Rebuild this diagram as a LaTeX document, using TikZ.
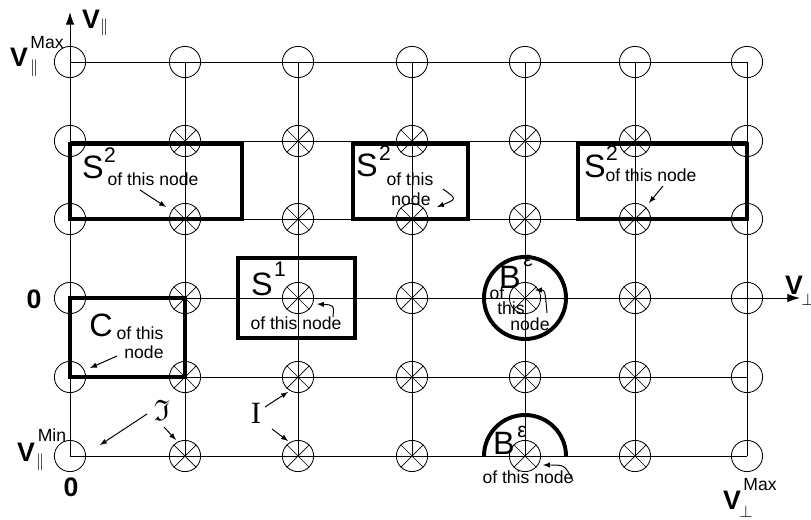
\documentclass[tikz,border=0pt]{standalone}
\usepackage{fontspec}
\setmainfont{Liberation Sans}
\newfontfamily\serifrm{Liberation Serif}
\usepackage{amsmath,amssymb}
\usetikzlibrary{arrows.meta}

\tikzset{
  gridpt/.style={circle,draw,line width=0.6pt,minimum size=0.78cm,inner sep=0pt},
  spoke/.style={line width=0.5pt},
  gridline/.style={line width=0.6pt},
  regionbox/.style={line width=2.8pt},
  bigtxt/.style={inner sep=0pt,font=\fontsize{23}{24}\selectfont},
  suptxt/.style={inner sep=0pt,font=\fontsize{15}{16}\selectfont},
  smalltxt/.style={inner sep=0pt,font=\fontsize{12.5}{13}\selectfont},
  axistxt/.style={inner sep=0pt,font=\fontsize{19}{20}\selectfont\bfseries},
  ptr/.style={-latex,line width=0.7pt},
  axisarrow/.style={-{Latex[length=9pt,width=6pt]},line width=0.7pt},
}

\begin{document}
\begin{tikzpicture}[x=0.025cm,y=-0.025cm]
\useasboundingbox (0,0) rectangle (811,520);

% Points de la grille
\foreach \y [count=\r] in {62,141,219,298,377,456}
  \foreach \x [count=\c] in {70,185,298,412,525,635,747}
    \node[gridpt] (p-\r-\c) at (\x,\y) {};

% Points interieurs
\foreach \r in {2,...,6}
  \foreach \c in {2,...,6}
    \draw[spoke]
    (p-\r-\c.north west) -- (p-\r-\c.south east)
    (p-\r-\c.north east) -- (p-\r-\c.south west);

% Lignes
\foreach \r in {1,2,3,5,6}
  \draw[gridline] (p-\r-1.center) -- (p-\r-7.center);
\foreach \c in {2,...,7}
  \draw[gridline] (p-1-\c.center) -- (p-6-\c.center);

% Axes
\coordinate (vtop) at (70,12);
\coordinate (hend) at (800,298);
\draw[axisarrow] (p-6-1.center) -- (vtop);
\draw[axisarrow] (p-4-1.center) -- (hend);

\node[axistxt] (vpar) at (91,19) {V};
\node[inner sep=0pt,font=\fontsize{12}{12}\selectfont] (vparsub) at (104,27) {$\parallel$};

\node[axistxt] (vperp) at (794,285) {V};
\node[inner sep=0pt,font=\fontsize{12}{12}\selectfont] (vperpsub) at (808,300) {$\perp$};

% Bornes
\node[axistxt] (vmaxv) at (19,57) {V};
\node[smalltxt] (vmaxsup) at (47,43) {Max};
\node[inner sep=0pt,font=\fontsize{12}{12}\selectfont] (vmaxsub) at (34,68) {$\parallel$};

\node[axistxt] (zeroa) at (34,299) {0};

\node[axistxt] (vminv) at (26,452) {V};
\node[smalltxt] (vminsup) at (52,435) {Min};
\node[inner sep=0pt,font=\fontsize{12}{12}\selectfont] (vminsub) at (40,462) {$\parallel$};

\node[axistxt] (zerob) at (71,487) {0};

\node[axistxt] (vpmaxv) at (732,500) {V};
\node[smalltxt] (vpmaxsup) at (760,485) {Max};
\node[inner sep=0pt,font=\fontsize{12}{12}\selectfont] (vpmaxsub) at (746,512) {$\perp$};

% Zones S2
\draw[regionbox] (70,144) rectangle (242,219);
\node[bigtxt] (sa) at (93,167) {S};
\node[suptxt] (saexp) at (110,155) {2};
\node[smalltxt] (satxt) at (153,179) {of this node};
\coordinate (saarr) at (140,190);
\coordinate (satip) at (166,207);
\draw[ptr] (saarr) -- (satip);

\draw[regionbox] (353,144) rectangle (468,219);
\node[bigtxt] (sb) at (367,165) {S};
\node[suptxt] (sbexp) at (385,153) {2};
\node[smalltxt] (sbtxt) at (410,179) {of this};
\node[smalltxt] (sbtxtb) at (411,199) {node};
\coordinate (sbarr) at (443,189);
\coordinate (sbtip) at (437,207);
\draw[ptr] (sbarr) .. controls (457,199) .. (sbtip);

\draw[regionbox] (578,144) rectangle (747,219);
\node[bigtxt] (sc) at (595,166) {S};
\node[suptxt] (scexp) at (612,153) {2};
\node[smalltxt] (sctxt) at (651,175) {of this node};
\coordinate (scarr) at (663,186);
\coordinate (sctip) at (649,203);
\draw[ptr] (scarr) -- (sctip);

% Zone S1
\draw[regionbox] (238,258) rectangle (355,338);
\node[bigtxt] (sd) at (262,284) {S};
\node[suptxt] (sdexp) at (280,269) {1};
\node[smalltxt] (sdtxt) at (296,323) {of this node};
\coordinate (sdarr) at (333,317);
\coordinate (sdtip) at (317,304);
\draw[ptr] (sdarr) .. controls (334,305) .. (sdtip);

% Zone C
\draw[regionbox] (70,298) rectangle (185,377);
\node[bigtxt] (cc) at (101,325) {C};
\node[smalltxt] (cctxt) at (140,333) {of this};
\node[smalltxt] (cctxtb) at (144,352) {node};
\coordinate (ccarr) at (117,356);
\coordinate (cctip) at (90,368);
\draw[ptr] (ccarr) -- (cctip);

% Boule B
\draw[regionbox] (p-4-5.center) circle [radius=41];
\node[bigtxt] (ba) at (510,277) {B};
\node[suptxt] (baexp) at (528,261) {ε};
\node[smalltxt] (batxt) at (497,293) {of};
\node[smalltxt] (batxtb) at (511,308) {this};
\node[smalltxt] (batxtc) at (530,324) {node};
\coordinate (baarr) at (547,313);
\coordinate (batip) at (535,290);
\draw[ptr] (baarr) .. controls (545,290) .. (batip);

\draw[regionbox] (484,456) arc [start angle=-180,end angle=0,radius=41];
\node[bigtxt] (bb) at (504,443) {B};
\node[suptxt] (bbexp) at (522,432) {ε};
\node[smalltxt] (bbtxt) at (528,477) {of this node};
\coordinate (bbarr) at (573,481);
\coordinate (bbtip) at (543,465);
\draw[ptr] (bbarr) .. controls (565,465) .. (bbtip);

% Etiquettes
\node[inner sep=0pt,font=\fontsize{21}{22}\selectfont] (frak) at (162,410) {$\mathfrak{I}$};
\coordinate (fraktipa) at (100,445);
\coordinate (fraktipb) at (176,440);
\draw[ptr] (147,414) -- (fraktipa);
\draw[ptr] (164,427) -- (fraktipb);

\node[inner sep=0pt,font=\fontsize{22}{22}\selectfont\serifrm] (ital) at (256,413) {I};
\coordinate (italtipa) at (288,392);
\coordinate (italtipb) at (288,441);
\draw[ptr] (265,407) -- (italtipa);
\draw[ptr] (272,429) -- (italtipb);

\end{tikzpicture}
\end{document}
